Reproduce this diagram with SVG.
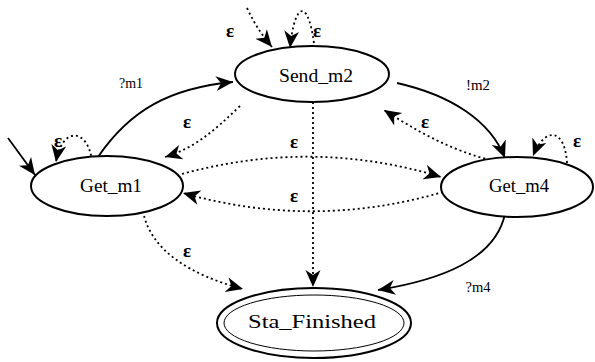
<svg xmlns="http://www.w3.org/2000/svg" width="595" height="362" viewBox="0 0 595 362">
<defs>
<marker id="ah" markerUnits="userSpaceOnUse" markerWidth="20" markerHeight="16" refX="17" refY="7.5" orient="auto">
<path d="M0,0 L17,7.5 L0,15 L5,7.5 z" fill="#000"/>
</marker>
<style>
.node ellipse{fill:#fff;stroke:#000;stroke-width:2}
.node text{font-family:"Liberation Serif",serif;font-size:19px;text-anchor:middle;fill:#000}
.e{fill:none;stroke:#000;stroke-width:1.8;marker-end:url(#ah)}
.d{stroke-dasharray:2,3}
.eps{font-family:"Liberation Serif",serif;font-size:19px;font-weight:bold;text-anchor:middle;fill:#000}
.lbl{font-family:"Liberation Serif",serif;font-size:15px;text-anchor:middle;fill:#000}
</style>
</defs>
<rect width="595" height="362" fill="#fff"/>
<g id="connectors">
<path class="e" d="M8,138 L35,175"/>
<path class="e d" d="M92,161 C88,128 62,126 56,162"/>
<path class="e" d="M98,157 C130,110 170,88 233,82"/>
<path class="e d" d="M240,106 C215,130 195,148 165,157"/>
<path class="e" d="M397,83 C450,95 490,120 505,158"/>
<path class="e d" d="M490,160 C450,150 415,130 384,110"/>
<path class="e d" d="M567,163 C565,128 545,126 533,156"/>
<path class="e d" d="M182,174 Q313,138 441,177"/>
<path class="e d" d="M443,192 Q313,230 183,193"/>
<path class="e d" d="M313,102 L313,287"/>
<path class="e d" d="M143,211 C150,250 190,275 243,289"/>
<path class="e" d="M505,214 C495,260 440,280 378,290"/>
<path class="e d" d="M247,8 C255,25 262,35 272,47"/>
<path class="e d" d="M315,53 C310,-2 295,-2 290,48"/>
<text class="eps" x="230" y="37">ε</text>
<text class="eps" x="317" y="37">ε</text>
<text class="eps" x="58" y="147">ε</text>
<text class="eps" x="187" y="128">ε</text>
<text class="eps" x="425" y="128">ε</text>
<text class="eps" x="577" y="147">ε</text>
<text class="eps" x="294" y="148">ε</text>
<text class="eps" x="294" y="202">ε</text>
<text class="eps" x="187" y="257">ε</text>
<text class="lbl" x="131" y="88" textLength="24" lengthAdjust="spacingAndGlyphs">?m1</text>
<text class="lbl" x="478" y="90" textLength="24" lengthAdjust="spacingAndGlyphs">!m2</text>
<text class="lbl" x="478" y="292" textLength="25" lengthAdjust="spacingAndGlyphs">?m4</text>
</g>
<g id="Send_m2" class="node">
<ellipse cx="312" cy="74" rx="77" ry="28"/>
<text x="316" y="82" textLength="74" lengthAdjust="spacingAndGlyphs">Send_m2</text>
</g>
<g id="Get_m1" class="node">
<ellipse cx="107" cy="186" rx="76" ry="30"/>
<text x="111" y="192" textLength="62" lengthAdjust="spacingAndGlyphs">Get_m1</text>
</g>
<g id="Get_m4" class="node">
<ellipse cx="517" cy="187" rx="76" ry="30"/>
<text x="519" y="192" textLength="60" lengthAdjust="spacingAndGlyphs">Get_m4</text>
</g>
<g id="Sta_Finished" class="node">
<ellipse cx="314" cy="323" rx="97" ry="35"/>
<ellipse cx="314" cy="323" rx="90" ry="28" style="stroke-width:1"/>
<text x="312" y="328" textLength="128" lengthAdjust="spacingAndGlyphs">Sta_Finished</text>
</g>
</svg>
